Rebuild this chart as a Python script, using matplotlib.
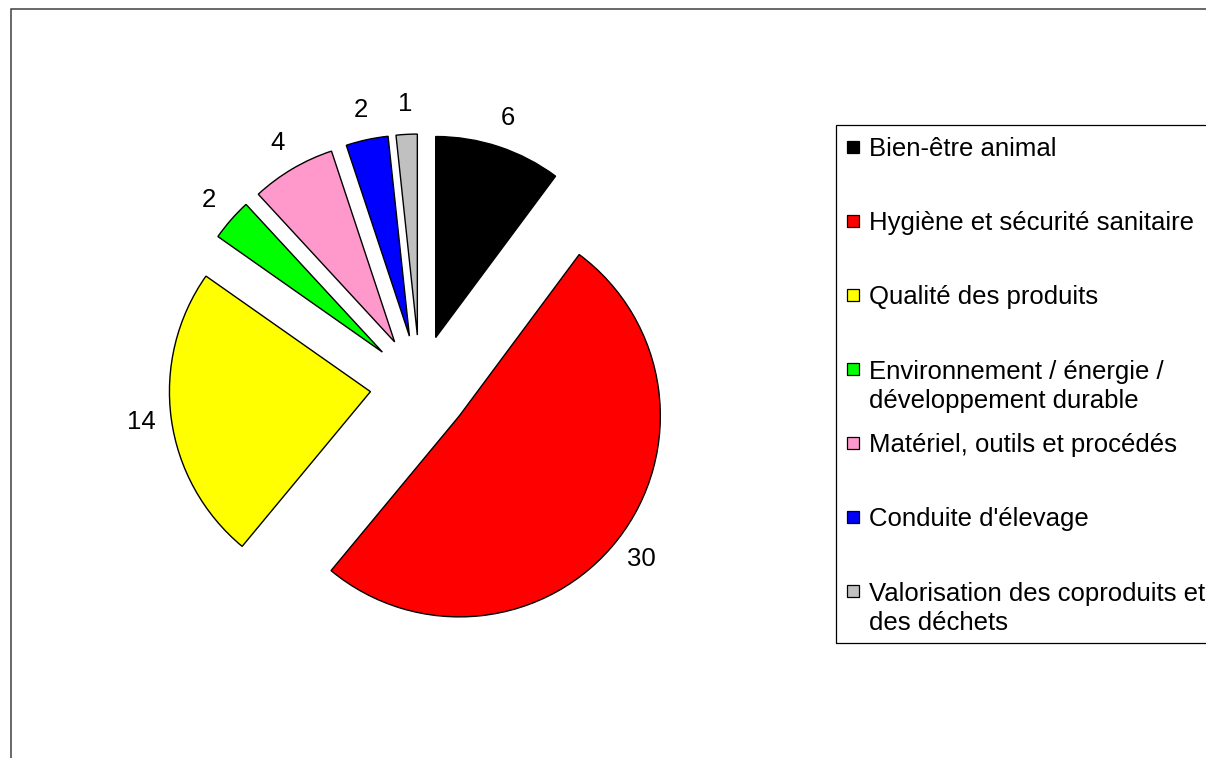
import matplotlib
matplotlib.use("Agg")
import matplotlib.pyplot as plt
from matplotlib.patches import Rectangle

categories = [
    "Bien-être animal",
    "Hygiène et sécurité sanitaire",
    "Qualité des produits",
    "Environnement / énergie /\ndéveloppement durable",
    "Matériel, outils et procédés",
    "Conduite d'élevage",
    "Valorisation des coproduits et\ndes déchets",
]
values = [6, 30, 14, 2, 4, 2, 1]
colors = ["#000000", "#FF0000", "#FFFF00", "#00FF00", "#FF99CC", "#0000FF", "#C0C0C0"]

FONT = "Liberation Sans"
FS = 18.5

W, H = 1206, 758
fig = plt.figure(figsize=(W / 100, H / 100), dpi=100)
ax = fig.add_axes([0, 0, 1, 1])

cx, cy = 420, H - 385
R = 201
total = sum(values)

wedges, texts, autotexts = ax.pie(
    values,
    colors=colors,
    startangle=90,
    counterclock=False,
    explode=[50] * len(values),
    center=(cx, cy),
    radius=R,
    autopct=lambda p: f"{p * total / 100:.0f}",
    pctdistance=1.15,
    wedgeprops=dict(edgecolor="black", linewidth=1.0),
    textprops=dict(fontsize=FS, family=FONT, color="black"),
    frame=False,
)
ax.set_xlim(0, W)
ax.set_ylim(0, H)
ax.set_aspect("auto")
ax.axis("off")

# outer chart border (cut at right and bottom)
ax.add_patch(Rectangle((11, -20), W + 50, H - 9 + 20, fill=False,
                       edgecolor="#404040", linewidth=1.1))

# legend box (cut at right)
box_left, box_top, box_bottom = 836, 125, 643
ax.add_patch(Rectangle((box_left, H - box_bottom), 500, box_bottom - box_top,
                       fill=False, edgecolor="black", linewidth=0.9))

first_y = 147
step = 74
line_pitch = 30
sq = 12
for i, (lab, col) in enumerate(zip(categories, colors)):
    yc = first_y + i * step
    nlines = lab.count("\n") + 1
    ax.add_patch(Rectangle((847, H - yc - sq / 2), sq, sq, facecolor=col,
                           edgecolor="black", linewidth=0.9))
    ax.text(869, H - yc - 9 - (nlines - 1) * line_pitch, lab, fontsize=FS,
            family=FONT, ha="left", va="baseline", linespacing=1.25,
            color="black")

fig.savefig("out.png", dpi=100)
